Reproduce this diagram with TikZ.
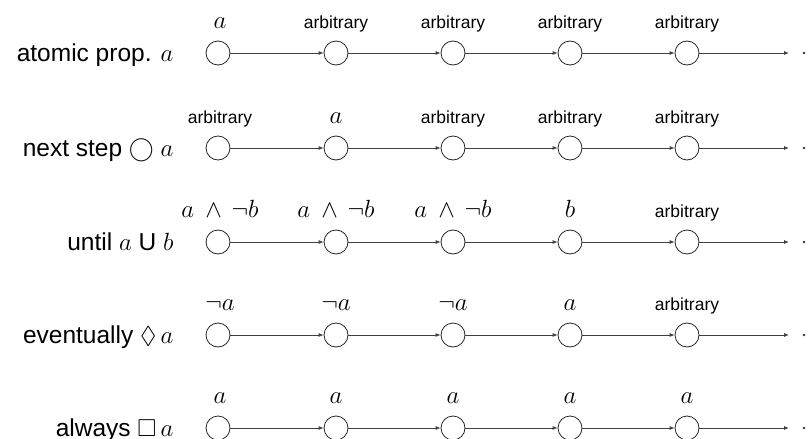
\documentclass[tikz,border=0pt]{standalone}
\usepackage{amssymb}
\usepackage{fontspec}
\setmainfont{Liberation Sans}
\usetikzlibrary{arrows.meta}
\newcommand{\arb}{{\fontsize{17.5}{20}\selectfont arbitrary}}
\newcommand{\anb}{$a\:\wedge\,\neg b$}
\tikzset{
 state/.style={circle,draw=black!85,line width=0.8pt,minimum size=24pt,inner sep=0pt},
 trans/.style={-{Latex[length=5pt,width=4pt]},draw=black!75,line width=0.8pt},
 toplab/.style={anchor=base,font=\fontsize{24}{28}\selectfont},
 rowlab/.style={anchor=base east,font=\fontsize{24.5}{28}\selectfont},
 dotnode/.style={circle,fill=black!80,minimum size=2.6pt,inner sep=0pt}
}
\newcommand{\staterow}[8]{%
 \node[rowlab] (lab#1) at (177,#2+8) {#3};
 \node[state] (s#1a) at (218,#2) {};
 \node[state] (s#1b) at (336,#2) {};
 \node[state] (s#1c) at (453,#2) {};
 \node[state] (s#1d) at (570,#2) {};
 \node[state] (s#1e) at (687,#2) {};
 \node[toplab] (t#1a) at (220,#2-25) {#4};
 \node[toplab] (t#1b) at (336,#2-25) {#5};
 \node[toplab] (t#1c) at (453,#2-25) {#6};
 \node[toplab] (t#1d) at (570,#2-25) {#7};
 \node[toplab] (t#1e) at (687,#2-25) {#8};
 \coordinate (e#1) at (789,#2);
 \node[dotnode] (d#1) at (804,#2) {};
 \draw[trans] (s#1a) -- (s#1b);
 \draw[trans] (s#1b) -- (s#1c);
 \draw[trans] (s#1c) -- (s#1d);
 \draw[trans] (s#1d) -- (s#1e);
 \draw[trans] (s#1e) -- (e#1);
}
\begin{document}
\begin{tikzpicture}[x=1pt,y=-1pt]
\useasboundingbox (0,0) rectangle (809,439);
\staterow{1}{53}{atomic prop. $a$}{$a$}{\arb}{\arb}{\arb}{\arb}
\staterow{2}{148}{next step $\bigcirc$ $a$}{\arb}{$a$}{\arb}{\arb}{\arb}
\staterow{3}{242}{until $a$ U $b$}{\anb}{\anb}{\anb}{$b$}{\arb}
\staterow{4}{335}{eventually $\Diamond\,a$}{$\neg a$}{$\neg a$}{$\neg a$}{$a$}{\arb}
\staterow{5}{428}{always $\Box\,a$}{$a$}{$a$}{$a$}{$a$}{$a$}
\end{tikzpicture}
\end{document}
